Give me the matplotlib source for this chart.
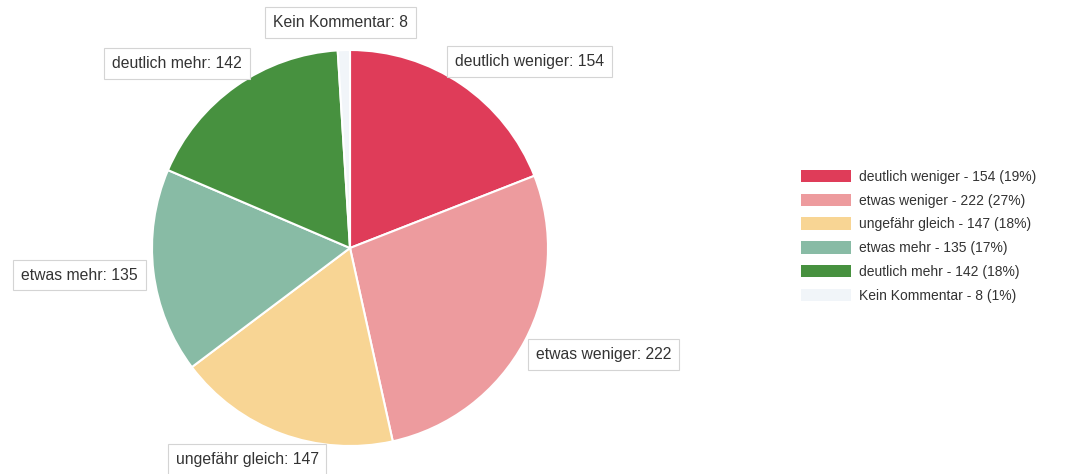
import numpy as np
import matplotlib.pyplot as plt

# survey answers, clockwise from 12 o'clock
categories = ['deutlich weniger', 'etwas weniger', 'ungefähr gleich',
              'etwas mehr', 'deutlich mehr', 'Kein Kommentar']
counts = [154, 222, 147, 135, 142, 8]
percent_labels = ['19%', '27%', '18%', '17%', '18%', '1%']
colors = ['#df3c59', '#ed9b9e', '#f8d594', '#88bba5', '#47913f', '#f1f5f9']

plt.rcParams['font.family'] = ['Liberation Sans', 'DejaVu Sans']

W, H = 1067, 474
fig = plt.figure(figsize=(W / 100, H / 100), dpi=100)

# pie area in pixels: centre (350, 248), radius 198
cx, cy, r = 350, 248, 198
ax = fig.add_axes([(cx - r) / W, (H - cy - r) / H, 2 * r / W, 2 * r / H])

wedges, _ = ax.pie(counts, colors=colors, startangle=90, counterclock=False,
                   radius=1, center=(0, 0), frame=False,
                   wedgeprops=dict(edgecolor='white', linewidth=1.5))
ax.set_xlim(-1, 1)
ax.set_ylim(-1, 1)
ax.set_aspect('equal')
ax.axis('off')

# data labels: height from the slice angle, sideways pushed onto a ring
total = sum(counts)
start = 0
for name, val in zip(categories, counts):
    mid = np.deg2rad((start + val / 2) / total * 360)
    start += val
    s, c = np.sin(mid), np.cos(mid)
    y = 1.14 * c
    if abs(s) > 0.4:
        x = np.sign(s) * np.sqrt(max(1.08 ** 2 - y ** 2, 0))
        ha = 'left' if s > 0 else 'right'
    else:
        x = 1.5 * s
        ha = 'center'
    ax.text(x, y, f'{name}: {val}', ha=ha, va='center', fontsize=11.3,
            color='#333333', clip_on=False,
            bbox=dict(boxstyle='square,pad=0.5', facecolor='white',
                      edgecolor='#d4d4d4', linewidth=0.8))

legend_labels = [f'{c} - {v} ({p})' for c, v, p in zip(categories, counts, percent_labels)]
leg = fig.legend(wedges, legend_labels, loc='upper left',
                 bbox_to_anchor=(801 / W, 1 - 170 / H), frameon=False,
                 fontsize=10, handlelength=3.6, handleheight=1.0,
                 handletextpad=0.55, labelspacing=0.7, borderpad=0,
                 borderaxespad=0)
for t in leg.get_texts():
    t.set_color('#333333')
for h in leg.legend_handles:
    h.set_edgecolor('none')

fig.savefig('out.png', dpi=100)
